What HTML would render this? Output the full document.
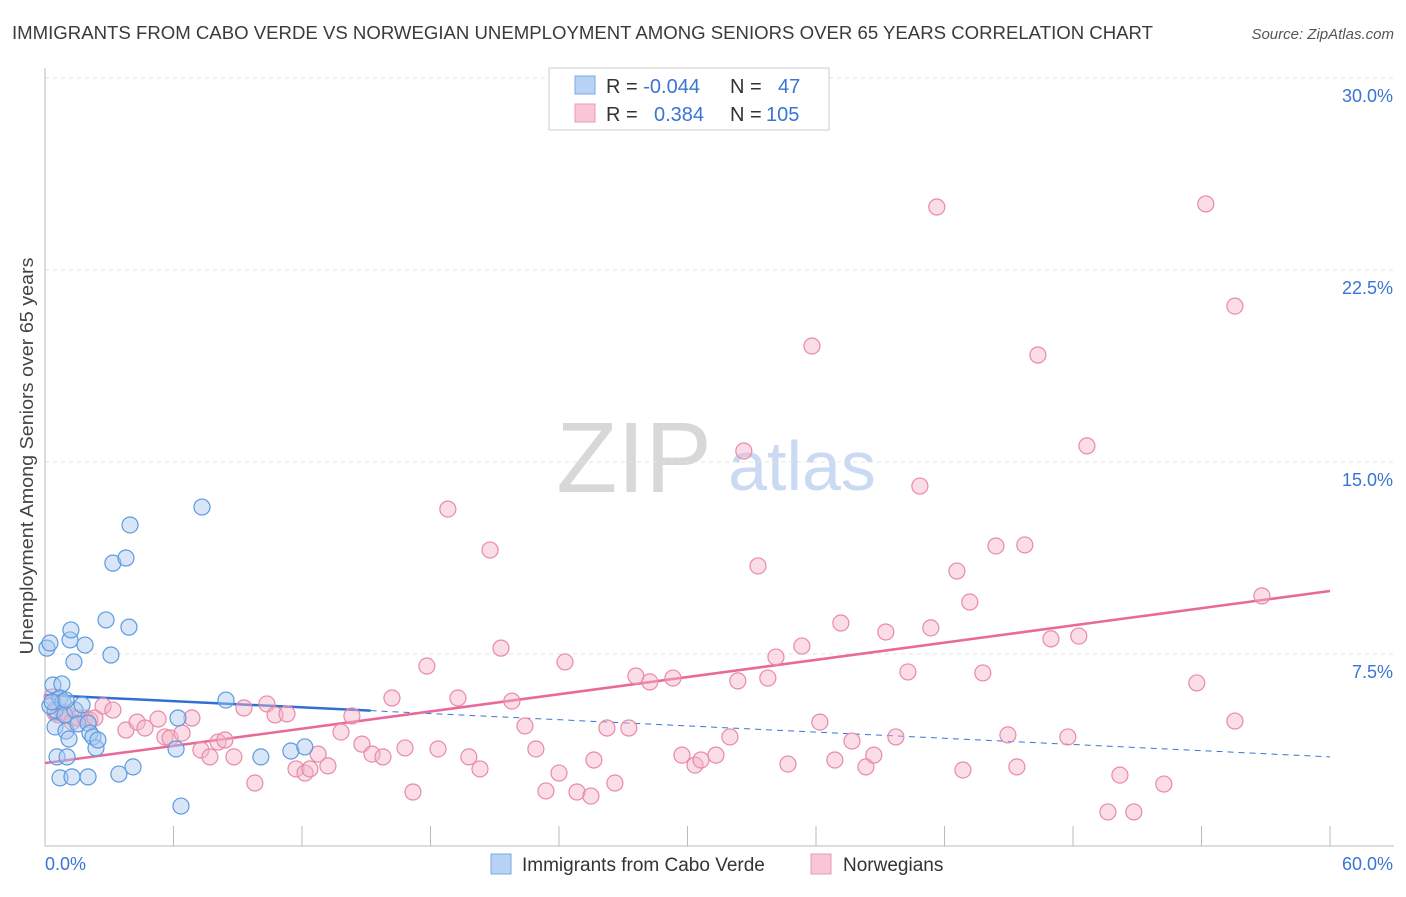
<!DOCTYPE html>
<html><head><meta charset="utf-8"><style>
body{margin:0;background:#fff;font-family:"Liberation Sans",sans-serif;}
svg text{font-family:"Liberation Sans",sans-serif;}
</style></head><body>
<svg id="chart" width="1406" height="892" viewBox="0 0 1406 892">
<text x="12" y="39" font-size="18" fill="#3a3a3a" textLength="1141" lengthAdjust="spacingAndGlyphs">IMMIGRANTS FROM CABO VERDE VS NORWEGIAN UNEMPLOYMENT AMONG SENIORS OVER 65 YEARS CORRELATION CHART</text>
<text x="1394" y="39" font-size="15" fill="#555" font-style="italic" text-anchor="end">Source: ZipAtlas.com</text>
<text x="33" y="456" font-size="18" fill="#444" text-anchor="middle" textLength="397" lengthAdjust="spacingAndGlyphs" transform="rotate(-90 33 456)">Unemployment Among Seniors over 65 years</text>
<g><text x="634" y="492" font-size="100" fill="#d8d8d8" text-anchor="middle" font-family="Liberation Serif,serif">ZIP</text><text x="802" y="490" font-size="70" fill="#c9daf2" text-anchor="middle">atlas</text></g>
<g id="grid"></g><g id="axes"></g><g id="trend"></g><g id="pts"></g>
<g>
<rect x="549" y="68" width="280" height="62" fill="#fff" stroke="#ccc"/>
<rect x="575" y="76" width="20" height="18" fill="#b8d3f5" stroke="#7aa9e3"/>
<rect x="575" y="104" width="20" height="18" fill="#f9c6d5" stroke="#ec9ab4"/>
<text x="606" y="93" font-size="20" fill="#333">R = <tspan fill="#3a74d6">-0.044</tspan><tspan x="730">N = </tspan><tspan x="778" fill="#3a74d6">47</tspan></text>
<text x="606" y="121" font-size="20" fill="#333">R = <tspan x="654" fill="#3a74d6">0.384</tspan><tspan x="730">N = </tspan><tspan x="766" fill="#3a74d6">105</tspan></text>
</g>
<g>
<rect x="491" y="854" width="20" height="20" fill="#b8d3f5" stroke="#7aa9e3"/>
<text x="522" y="871" font-size="19" fill="#333">Immigrants from Cabo Verde</text>
<rect x="811" y="854" width="20" height="20" fill="#f9c6d5" stroke="#ec9ab4"/>
<text x="843" y="871" font-size="19" fill="#333">Norwegians</text>
</g>
</svg>
<script>
const blueX=[0.09,0.23,0.37,0.47,0.23,0.47,0.56,0.70,0.79,0.70,0.84,0.93,0.98,1.03,1.12,1.17,1.21,1.26,1.35,1.40,1.54,1.73,1.87,2.01,2.01,2.10,2.24,2.38,2.47,2.85,3.08,3.17,3.45,3.78,3.92,3.97,4.11,6.12,6.21,6.35,7.33,8.45,10.08,11.48,12.13,0.33,0.98];
const blueY=[7.73,7.93,6.29,5.31,5.47,4.65,3.48,2.66,6.33,5.78,5.63,5.12,4.49,3.48,4.18,8.05,8.44,2.70,7.19,5.31,4.77,5.51,7.85,4.80,2.70,4.41,4.26,3.83,4.14,8.83,7.46,11.05,2.81,11.25,8.55,12.54,3.09,3.79,5.00,1.56,13.24,5.70,3.48,3.71,3.87,5.63,5.70];
const pinkX=[0.33,0.47,0.61,0.84,1.03,1.26,1.54,1.87,2.10,2.33,2.71,3.17,3.78,4.30,4.67,5.28,5.60,5.84,6.40,6.86,7.28,7.70,8.08,8.40,8.82,9.29,9.80,10.36,10.74,11.30,11.72,12.14,12.37,12.75,13.21,13.82,14.33,14.80,15.27,15.78,16.20,16.81,17.18,17.83,18.35,18.81,19.28,19.79,20.31,20.78,21.29,21.80,22.41,22.92,23.39,24.00,24.28,24.84,25.49,25.63,26.24,26.61,27.26,27.59,28.24,29.32,29.74,30.35,30.63,31.33,31.98,32.35,32.63,33.29,33.75,34.13,34.69,35.34,35.81,36.18,36.88,37.16,37.68,38.33,38.70,39.26,39.73,40.29,40.85,41.36,41.64,42.58,42.86,43.18,43.79,44.40,44.96,45.38,45.75,46.36,46.97,47.76,48.27,48.65,49.63,50.19,50.84,52.24,53.78,54.20,55.56,55.56,56.82];
const pinkY=[5.82,5.20,5.12,5.23,5.16,4.84,5.00,5.00,4.92,5.00,5.47,5.31,4.53,4.84,4.61,4.96,4.26,4.22,4.41,5.00,3.75,3.48,4.06,4.14,3.48,5.39,2.46,5.55,5.12,5.16,3.01,2.85,3.01,3.59,3.13,4.45,5.08,3.98,3.59,3.48,5.78,3.83,2.11,7.03,3.79,13.16,5.78,3.48,3.01,11.56,7.73,5.66,4.69,3.79,2.15,2.85,7.19,2.11,1.95,3.36,4.61,2.46,4.61,6.64,6.41,6.56,3.55,3.16,3.36,3.55,4.26,6.45,15.43,10.94,6.56,7.38,3.20,7.81,19.53,4.84,3.36,8.71,4.10,3.09,3.55,8.36,4.26,6.80,14.06,8.52,24.96,10.74,2.97,9.53,6.76,11.72,4.34,3.09,11.76,19.18,8.09,4.26,8.20,15.63,1.33,2.77,1.33,2.42,6.37,25.08,4.88,21.09,9.77];
const yTicks=[7.5,15,22.5,30];
const yTickLabels=["7.5%","15.0%","22.5%","30.0%"];
const xTicks=[0,6,12,18,24,30,36,42,48,54,60];
const blueTrend=[5.9,-0.0403,15.2];
const pinkTrend=[3.24,0.112];
const NS="http://www.w3.org/2000/svg";
const sx=v=>45+v*(1285/60), sy=v=>846-v*25.6;
function mk(tag,attrs,parent){const e=document.createElementNS(NS,tag);for(const k in attrs)e.setAttribute(k,attrs[k]);parent.appendChild(e);return e;}
const grid=document.getElementById('grid'),axes=document.getElementById('axes'),trend=document.getElementById('trend'),pts=document.getElementById('pts');
yTicks.forEach((t,i)=>{
 const l=mk('line',{x1:45,x2:1394,y1:sy(t),y2:sy(t),stroke:'#e3e3e3','stroke-dasharray':'4,4'},grid);
 
 
 const tx=mk('text',{x:1393,y:sy(t)+24,'font-size':18,fill:'#3a74d6','text-anchor':'end'},grid);
 tx.textContent=yTickLabels[i];
 
 
});
const ya=mk('line',{x1:45,x2:45,y1:68,y2:846,stroke:'#bbb'},axes);


const xa=mk('line',{x1:45,x2:1394,y1:846,y2:846,stroke:'#bbb'},axes);


xTicks.forEach(t=>{
 const l=mk('line',{x1:sx(t),x2:sx(t),y1:826,y2:846,stroke:'#bbb'},axes);
 
 
});
const xl0=mk('text',{x:45,y:870,'font-size':18,fill:'#3a74d6'},axes);xl0.textContent='0.0%';


const xl1=mk('text',{x:1393,y:870,'font-size':18,fill:'#3a74d6','text-anchor':'end'},axes);xl1.textContent='60.0%';


function dots(X,Y,fill,stroke,name){X.forEach((x,i)=>{
 const c=mk('circle',{cx:sx(x),cy:sy(Y[i]),r:8,fill:fill,'fill-opacity':0.45,stroke:stroke,'stroke-width':1.2},pts);
 
 
});}
dots(pinkX,pinkY,'#f5b3c7','#e88aa8','norwegians-point');
dots(blueX,blueY,'#a9c8f0','#5b9be0','cabo-verde-point');
const bf=x=>blueTrend[0]+blueTrend[1]*x, pf=x=>pinkTrend[0]+pinkTrend[1]*x;
const bd=mk('line',{x1:sx(blueTrend[2]),y1:sy(bf(blueTrend[2])),x2:sx(60),y2:sy(bf(60)),stroke:'#3a74d6','stroke-width':1,'stroke-dasharray':'6,5'},trend);


const bs=mk('line',{x1:sx(0),y1:sy(bf(0)),x2:sx(blueTrend[2]),y2:sy(bf(blueTrend[2])),stroke:'#2f6fd3','stroke-width':2.5},trend);


const ps=mk('line',{x1:sx(0),y1:sy(pf(0)),x2:sx(60),y2:sy(pf(60)),stroke:'#e8699a','stroke-width':2.5},trend);


</script>
</body></html>
